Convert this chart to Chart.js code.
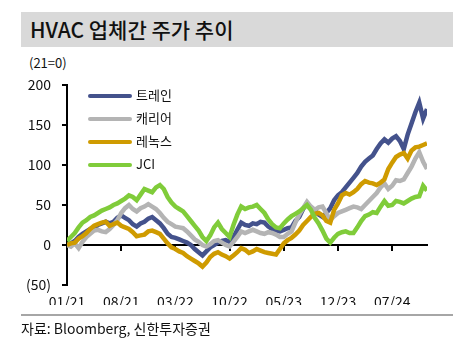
<!DOCTYPE html>
<html>
<head>
<meta charset="utf-8">
<script src="https://cdn.jsdelivr.net/npm/chart.js@4"></script>
<style>
  body { margin: 0; background: #fff; font-family: "Noto Sans CJK KR", "Noto Sans", sans-serif; color: #111; }
  #wrap { position: relative; width: 460px; height: 352px; }
  #chartCanvas { position: absolute; left: 0; top: 0; }
  .title { position: absolute; left: 21px; top: 12px; width: 432px; height: 35px; background: #d9d9d9;
           font-size: 21px; font-weight: 500; line-height: 35px; padding-left: 9px; box-sizing: border-box; }
  .unit { position: absolute; left: 29px; top: 53px; font-size: 13px; }
  .legend { position: absolute; left: 88px; top: 86px; font-size: 13px; }
  .legend div { height: 23px; line-height: 18px; }
  .legend span { display: inline-block; width: 44px; height: 4px; border-radius: 2px; vertical-align: middle; margin-right: 4px; }
  .bottomline { position: absolute; left: 21px; top: 314px; width: 432px; height: 2px; background: #a6a6a6; }
  .source { position: absolute; left: 21px; top: 318px; font-size: 14px; }
</style>
</head>
<body>
<div id="wrap">
  <div class="title">HVAC 업체간 주가 추이</div>
  <div class="unit">(21=0)</div>
  <canvas id="chartCanvas" width="460" height="352"></canvas>
  <div class="legend" id="legend"></div>
  <div class="bottomline"></div>
  <div class="source">자료: Bloomberg, 신한투자증권</div>
</div>
<script>
// half-monthly points from 01/21
const seriesNames = ["트레인", "캐리어", "레녹스", "JCI"];
const seriesColors = ["#44528c", "#b4b4b4", "#cf9b00", "#80cc3a"];
const tickLabels = ["01/21", "08/21", "03/22", "10/22", "05/23", "12/23", "07/24"];

const trane = [0,2,5,10,14,17,20,22,25,27,29,27,29,34,37,34,31,26,23,27,29,33,35,31,27,21,14,10,9,7,
  5,3,0,-5,-9,-13,-8,-3,0,3,5,6,4,10,19,28,25,24,27,26,29,28,23,20,18,17,19,21,22,30,
  35,45,52,46,43,38,35,40,46,56,62,66,72,78,84,90,98,104,108,112,120,127,132,128,133,136,130,120,138,152,
  166,178,158,170];
const carrier = [0,-2,2,-4,4,10,14,18,19,17,16,20,25,31,40,46,50,45,42,46,48,51,48,45,40,34,29,26,23,22,
  21,17,12,7,4,0,-2,1,5,6,3,0,-2,4,10,17,15,17,19,17,15,14,16,15,13,10,10,14,17,28,
  38,46,54,48,44,47,48,40,31,36,40,42,44,46,48,47,45,50,55,60,65,72,77,70,74,81,80,82,90,98,
  108,116,104,95];
const lennox = [0,2,3,8,11,15,20,24,26,28,29,24,26,28,24,22,20,16,11,12,13,17,18,16,14,8,2,-3,-5,-8,
  -10,-14,-17,-20,-23,-27,-22,-15,-11,-9,-12,-14,-17,-13,-9,-4,-6,-10,-8,-5,-7,-9,-10,-11,-12,-5,2,6,9,13,
  18,25,30,35,39,40,37,30,28,44,52,62,65,63,66,70,76,80,78,77,75,78,82,95,103,110,113,115,108,118,
  122,123,125,127];
const jci = [5,10,15,22,28,31,35,37,40,43,45,47,50,52,55,58,62,60,56,63,70,68,66,72,75,70,60,53,48,45,
  42,36,30,24,18,10,5,12,22,28,20,15,10,25,38,48,45,47,48,50,45,40,32,26,22,21,27,32,36,39,
  42,46,50,44,34,27,18,8,3,9,14,16,17,15,15,22,30,36,38,41,40,48,55,49,50,55,54,52,55,58,
  60,61,74,68];

const months = trane.map((v, i) => i / 2);
const allSeries = [trane, carrier, lennox, jci];

// legend (html, inside the plot)
const legend = document.getElementById("legend");
seriesNames.forEach((name, i) => {
  const row = document.createElement("div");
  row.innerHTML = '<span style="background:' + seriesColors[i] + '"></span>' + name;
  legend.appendChild(row);
});

const tickFont = { family: "'Noto Sans CJK KR', 'Noto Sans', sans-serif", size: 14 };

const chart = new Chart(document.getElementById("chartCanvas"), {
  type: "line",
  data: {
    labels: months,
    datasets: seriesNames.map((name, i) => ({
      label: name,
      data: allSeries[i],
      borderColor: seriesColors[i],
      backgroundColor: seriesColors[i],
      borderWidth: 4.5,
      pointRadius: 0,
      tension: 0,
      order: 3 - i
    }))
  },
  options: {
    responsive: false,
    animation: false,
    layout: { padding: { left: 22, right: 33, top: 85, bottom: 47 } },
    plugins: { legend: { display: false }, tooltip: { enabled: false } },
    scales: {
      x: {
        type: "linear",
        position: { y: 0 },
        min: 0,
        max: 46.5,
        border: { color: "#000", width: 2 },
        grid: { drawOnChartArea: false, drawTicks: true, tickLength: 5, color: "#000", lineWidth: 2 },
        ticks: { display: false, stepSize: 7, includeBounds: false }
      },
      x2: {
        type: "linear",
        position: "bottom",
        min: 0,
        max: 46.5,
        border: { display: false },
        grid: { display: false, drawTicks: false },
        ticks: {
          stepSize: 7,
          includeBounds: false,
          padding: 8,
          color: "#111",
          font: tickFont,
          maxRotation: 0,
          callback: v => tickLabels[Math.round(v / 7)]
        },
        afterFit: s => { s.height = 20; }
      },
      y: {
        min: -50,
        max: 200,
        border: { color: "#000", width: 2 },
        grid: { drawOnChartArea: false, drawTicks: true, tickLength: 5, color: "#000", lineWidth: 2 },
        ticks: {
          stepSize: 50,
          padding: 11,
          color: "#111",
          font: tickFont,
          callback: v => v < 0 ? "(" + Math.abs(v) + ")" : v
        },
        afterFit: s => { s.width = 45; }
      }
    }
  }
});
</script>
</body>
</html>
